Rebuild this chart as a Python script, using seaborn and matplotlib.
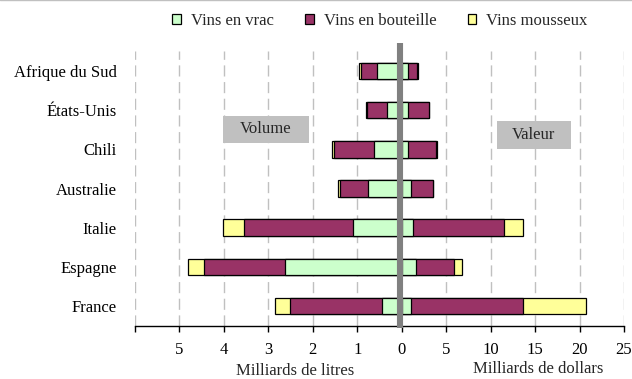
import numpy as np
import pandas as pd
import matplotlib
matplotlib.use("Agg")
import matplotlib.pyplot as plt
from matplotlib.patches import Patch, Rectangle
from matplotlib.lines import Line2D
import seaborn as sns

# data (volume: billions of litres, value: billions of dollars)
countries = ["Afrique du Sud", "États-Unis", "Chili", "Australie", "Italie", "Espagne", "France"]
vol_vrac = [0.56, 0.34, 0.62, 0.75, 1.09, 2.62, 0.45]
vol_bouteille = [0.36, 0.45, 0.90, 0.64, 2.45, 1.83, 2.06]
vol_mousseux = [0.04, 0.01, 0.05, 0.05, 0.47, 0.35, 0.33]
val_vrac = [0.67, 0.67, 0.67, 1.04, 1.31, 1.60, 1.04]
val_bouteille = [1.08, 2.42, 3.23, 2.50, 10.22, 4.24, 12.65]
val_mousseux = [0.03, 0.03, 0.03, 0.03, 2.16, 0.93, 7.00]

series = ["Vins en vrac", "Vins en bouteille", "Vins mousseux"]
colors = ["#ccffcc", "#993366", "#ffff99"]
left_ticks = ["", "5", "4", "3", "2", "1", "0"]
right_ticks = ["5", "10", "15", "20", "25"]

sns.set_theme(style="white")
plt.rcParams["font.family"] = ["Liberation Serif", "DejaVu Serif"]
fs = 12

fig = plt.figure(figsize=(6.32, 3.79), dpi=100)
ax = fig.add_axes([135/632, 1-325.6/379, 489/632, 274.2/379])

# one x scale: left = litres, right = dollars / 5
df = pd.DataFrame({"pays": countries,
                   "v1": vol_vrac, "v2": vol_bouteille, "v3": vol_mousseux,
                   "d1": val_vrac, "d2": val_bouteille, "d3": val_mousseux})
df["vol_c1"] = -df["v1"]
df["vol_c2"] = -(df["v1"] + df["v2"])
df["vol_c3"] = -(df["v1"] + df["v2"] + df["v3"])
df["val_c1"] = df["d1"] / 5
df["val_c2"] = (df["d1"] + df["d2"]) / 5
df["val_c3"] = (df["d1"] + df["d2"] + df["d3"]) / 5

# draw cumulative stacks from the outside in so the segments overlap
for side in ["vol", "val"]:
    for lvl, col in zip([3, 2, 1], colors[::-1]):
        sns.barplot(data=df, x=f"{side}_c{lvl}", y="pays", orient="h", color=col,
                    saturation=1, width=0.42, edgecolor="black", linewidth=0.9,
                    ax=ax, zorder=3)

ax.set_xlim(-6, 5)
ax.set_ylim(6.5, -0.5)
ax.set_xticks(np.arange(-6, 6))
ax.set_xticklabels(left_ticks + right_ticks)
ax.set_xlabel("")
ax.set_ylabel("")
for x in np.arange(-6, 6):
    if x != 0:
        ax.axvline(x, color="#c0c0c0", lw=1, ls=(0, (8, 4)), zorder=1)
ax.axvline(-0.03, ymin=-0.009, ymax=1.031, color="#808080", lw=4.4, zorder=5,
           clip_on=False, solid_capstyle="butt")

for s in ["top", "right", "left"]:
    ax.spines[s].set_visible(False)
ax.spines["bottom"].set_color("black")
ax.spines["bottom"].set_linewidth(1)
ax.tick_params(axis="x", direction="out", length=4, width=1, color="black",
               bottom=True, labelsize=fs, pad=8)
ax.tick_params(axis="y", length=0, labelsize=fs, pad=13)
for lab in ax.get_yticklabels() + ax.get_xticklabels():
    lab.set_color("black")

fig.text(295/632, 1-371/379, "Milliards de litres", ha="center", va="center", fontsize=fs)
fig.text(538/632, 1-369/379, "Milliards de dollars", ha="center", va="center", fontsize=fs)

# grey labels for each half
fig.add_artist(Rectangle((223/632, 1-142.7/379), 86/632, 26.7/379, transform=fig.transFigure,
                         facecolor="#c0c0c0", edgecolor="none", zorder=6))
fig.text(266/632, 1-129.3/379, "Volume", ha="center", va="center", fontsize=fs, zorder=7)
fig.add_artist(Rectangle((496.7/632, 1-149/379), 74.3/632, 28/379, transform=fig.transFigure,
                         facecolor="#c0c0c0", edgecolor="none", zorder=6))
fig.text(533.8/632, 1-135/379, "Valeur", ha="center", va="center", fontsize=fs, zorder=7)

handles = [Patch(facecolor=c, edgecolor="black", linewidth=0.9) for c in colors]
fig.legend(handles, series, loc="center", bbox_to_anchor=(380/632, 1-21/379), ncol=3,
           frameon=False, fontsize=fs, handlelength=0.5, handleheight=0.5,
           handletextpad=0.6, columnspacing=1.9)

fig.add_artist(Line2D([0, 1], [0.999, 0.999], transform=fig.transFigure, color="#c0c0c0", lw=1))

fig.savefig("out.png", dpi=100)
